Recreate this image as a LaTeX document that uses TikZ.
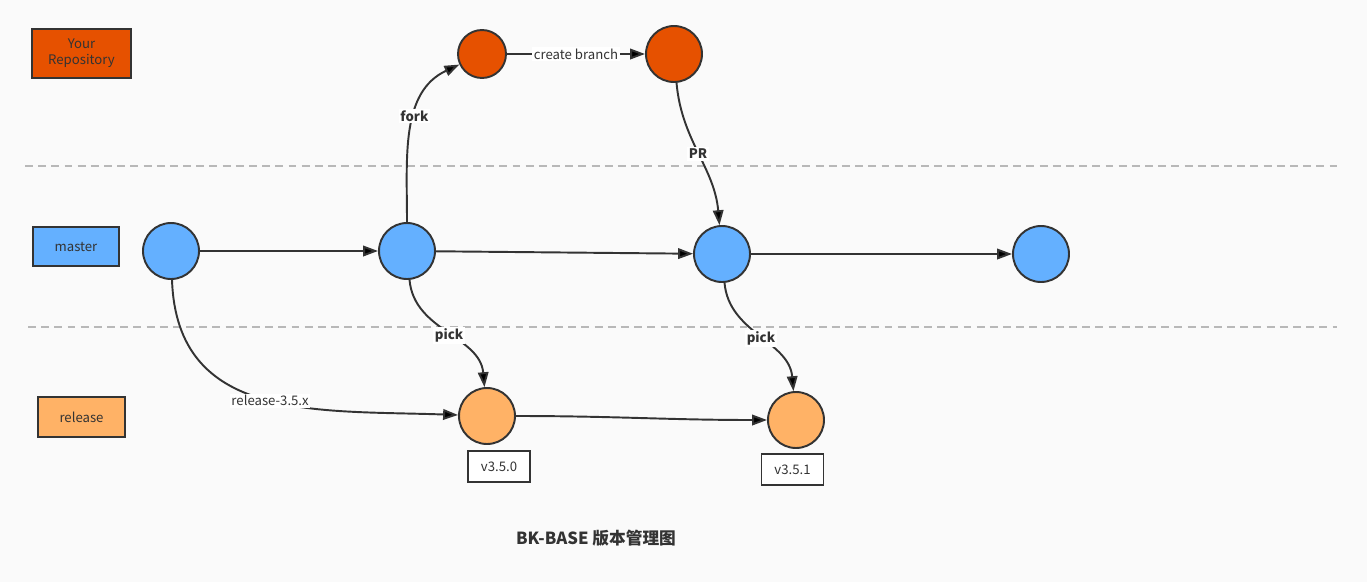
\documentclass[tikz,border=0pt]{standalone}
\usepackage{fontspec}
\setmainfont{Noto Sans CJK SC}
\usetikzlibrary{arrows.meta}
\definecolor{bg}{HTML}{FAFAFA}
\definecolor{ink}{HTML}{333333}
\definecolor{repo}{HTML}{E65100}
\definecolor{mast}{HTML}{64B0FF}
\definecolor{rel}{HTML}{FFB266}
\definecolor{sep}{HTML}{B8B8B8}
\begin{document}
\begin{tikzpicture}
  [x=0.02cm,y=-0.02cm,
   every node/.style={font=\fontsize{7.5}{9}\selectfont},
   commit/.style={circle,draw=ink,line width=1.1pt,minimum size=1.12cm,inner sep=0pt},
   legend/.style={rectangle,draw=ink,line width=1.3pt,text=ink,align=center,inner sep=0pt},
   tag/.style={rectangle,draw=ink,line width=1.1pt,fill=white,text=ink,minimum width=1.24cm,minimum height=0.62cm,inner sep=0pt},
   flow/.style={draw=ink,line width=1.1pt,-{Triangle[length=8.5pt,width=6pt]}},
   lbl/.style={fill=white,text=ink,inner sep=1pt},
   bold lbl/.style={lbl,font=\fontsize{7.5}{9}\selectfont\bfseries},
   sep line/.style={draw=sep,line width=0.6pt,dash pattern=on 4.5pt off 3pt}]
  \fill[bg] (0,0) rectangle (1367,582);

  % lanes
  \coordinate (s0a) at (25,166);
  \coordinate (s0b) at (1340,166);
  \coordinate (s1a) at (28,327);
  \coordinate (s1b) at (1337,327);
  \path[sep line] (s0a) -- (s0b);
  \path[sep line] (s1a) -- (s1b);

  \node[legend,fill=repo,minimum width=1.98cm,minimum height=0.98cm] (ly) at (81.5,53.5) {Your\\Repository};
  \node[legend,fill=mast,minimum width=1.72cm,minimum height=0.78cm] (lm) at (76,246.5) {master};
  \node[legend,fill=rel,minimum width=1.74cm,minimum height=0.8cm] (lr) at (81.5,417) {release};

  % commits
  \node[commit,fill=repo,minimum size=0.96cm] (y0) at (482,54) {};
  \node[commit,fill=repo] (y1) at (674,54) {};
  \node[commit,fill=mast] (m0) at (171,251) {};
  \node[commit,fill=mast] (m1) at (407,251) {};
  \node[commit,fill=mast] (m2) at (722,254) {};
  \node[commit,fill=mast] (m3) at (1041,254) {};
  \node[commit,fill=rel] (r0) at (487,416) {};
  \node[commit,fill=rel] (r1) at (796,420) {};

  \node[tag] (t0) at (499,466.5) {v3.5.0};
  \node[tag] (t1) at (792.5,469.5) {v3.5.1};

  \path[] (m0) [flow] edge (m1);
  \path[] (m1) [flow] edge (m2);
  \path[] (m2) [flow] edge (m3);
  \path[] (m1) [flow] edge[out=90,in=205] node[bold lbl,pos=0.58] {fork} (y0);
  \path[] (y0) [flow] edge node[lbl] {create branch} (y1);
  \path[] (y1) [flow] edge[out=-85,in=95] node[bold lbl,pos=0.5] {PR} (m2);
  \path[] (m0) [flow] edge[out=-88,in=178,looseness=1.15] node[lbl,pos=0.52] {release-3.5.x} (r0);
  \path[] (m1) [flow] edge[out=-85,in=95] node[bold lbl,pos=0.52] {pick} (r0);
  \path[] (m2) [flow] edge[out=-85,in=95] node[bold lbl,pos=0.52] {pick} (r1);
  \path[] (r0) [flow] edge[out=0,in=180] (r1);

  \node[text=ink,font=\fontsize{9.5}{11}\selectfont\bfseries] (title) at (596,538) {BK-BASE 版本管理图};
\end{tikzpicture}
\end{document}
